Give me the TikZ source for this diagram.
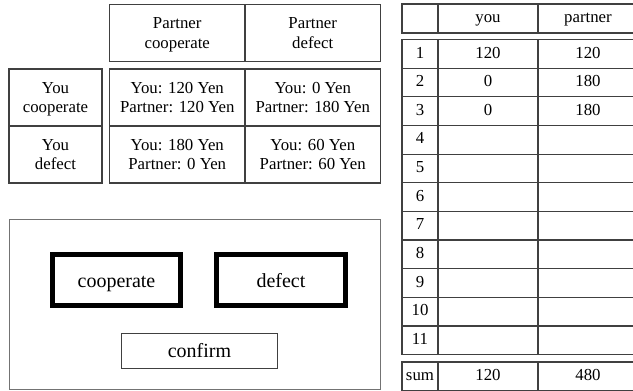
\documentclass[tikz,border=0pt]{standalone}
\usepackage{fontspec}
\setmainfont{Liberation Serif}
\usetikzlibrary{positioning}
\definecolor{LineGray}{RGB}{64,64,64}

\tikzset{
  cell/.style={draw=LineGray, line width=1.2pt, inner sep=0pt, outer sep=0pt, align=center,
               font=\fontsize{16.8pt}{19.8pt}\selectfont},
  paycell/.style={cell, minimum width=135.5pt, minimum height=57pt, text height=35pt, text depth=4.4pt},
  labcell/.style={cell, minimum width=93pt, minimum height=57pt, text height=35pt, text depth=4.4pt},
  numcell/.style={cell, minimum width=36pt, minimum height=#1, text height=12.8pt, text depth=4.4pt},
  scorecell/.style={cell, minimum width=100pt, minimum height=#1, text height=12.8pt, text depth=4.4pt},
  button/.style={draw=black, line width=5pt, inner sep=0pt, outer sep=0pt,
                 minimum height=51pt, text height=18.6pt, text depth=4pt,
                 font=\fontsize{20pt}{24pt}\selectfont},
}

\begin{document}
\begin{tikzpicture}[x=1pt,y=-1pt]
        \clip (0,0) rectangle (633,391);
        \fill[white] (0,0) rectangle (633,391);
        % payoff matrix
        \node[paycell] (pc) at (177.25,33) {Partner\\cooperate};
        \node[paycell, right=0pt of pc] (pd) {Partner\\defect};
        \node[labcell] (yc) at (55.5,97.5) {You\\cooperate};
        \node[labcell, below=0pt of yc] (yd) {You\\defect};
        \node[paycell] (cc) at (177.25,97.5) {You: 120 Yen\\Partner: 120 Yen};
        \node[paycell, right=0pt of cc] (cd) {You: 0 Yen\\Partner: 180 Yen};
        \node[paycell, below=0pt of cc] (dc) {You: 180 Yen\\Partner: 0 Yen};
        \node[paycell, right=0pt of dc] (dd) {You: 60 Yen\\Partner: 60 Yen};
        % score table
        \node[numcell=29pt] (n0) at (420,18.5) {};
        \node[scorecell=29pt, right=0pt of n0] (u0) {you};
        \node[scorecell=29pt, right=0pt of u0] (p0) {partner};
        \foreach \i/\a/\b in {1/120/120,2/0/180,3/0/180,4//,5//,6//,7//,8//,9//,10//,11//}
        {
            \node[numcell=28.65pt] (n\i) at (420,39.5+28.65*\i-14.325) {\i};
            \node[scorecell=28.65pt, right=0pt of n\i] (u\i) {\a};
            \node[scorecell=28.65pt, right=0pt of u\i] (p\i) {\b};
        }
        \node[numcell=29pt] (ns) at (420,376.5) {sum};
        \node[scorecell=29pt, right=0pt of ns] (us) {120};
        \node[scorecell=29pt, right=0pt of us] (ps) {480};
        % choice panel
        \node[draw=black!55, line width=1pt, minimum width=371pt, minimum height=170pt] (panel) at (195,304.5) {};
        \node[button, minimum width=128pt] (coop) at (116.5,280) {cooperate};
        \node[button, minimum width=129pt] (defect) at (281,280) {defect};
        \node[draw=LineGray, line width=1pt, minimum width=156pt, minimum height=35pt,
              text height=17.5pt, text depth=4pt,
              font=\fontsize{20pt}{24pt}\selectfont] (confirm) at (199.5,351) {confirm};
    \end{tikzpicture}
\end{document}
